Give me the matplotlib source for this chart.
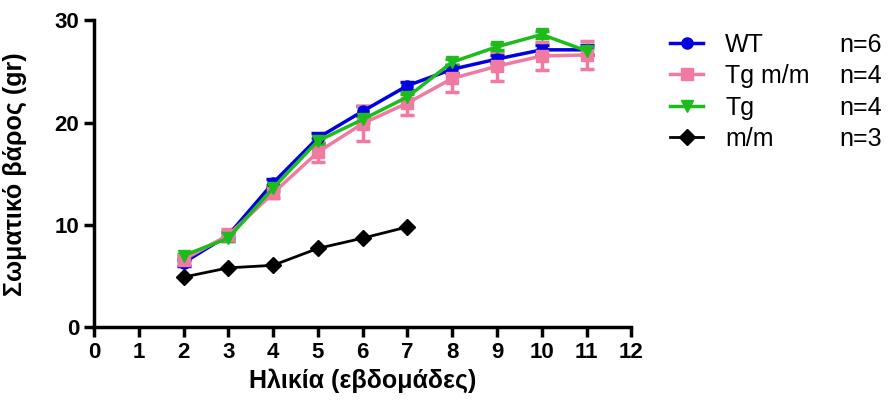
import matplotlib.pyplot as plt
import numpy as np

plt.rcParams['font.family'] = ['Liberation Sans', 'DejaVu Sans']

weeks = [2, 3, 4, 5, 6, 7, 8, 9, 10, 11]
wt = [6.3, 9.0, 14.1, 18.5, 21.1, 23.6, 25.2, 26.2, 27.1, 27.1]
wt_err = [0.3, 0.3, 0.4, 0.5, 0.5, 0.4, 0.4, 0.4, 0.5, 0.5]
tgmm = [6.6, 9.0, 13.1, 17.1, 19.9, 21.9, 24.3, 25.5, 26.5, 26.6]
tgmm_err = [0.4, 0.6, 0.5, 1.0, 1.7, 1.2, 1.3, 1.4, 1.4, 1.4]
tg = [7.0, 8.7, 13.6, 18.2, 20.3, 22.5, 25.9, 27.4, 28.6, 27.0]
tg_err = [0.2, 0.3, 0.3, 0.3, 0.3, 0.3, 0.3, 0.3, 0.3, 0.3]
mm_weeks = [2, 3, 4, 5, 6, 7]
mm = [4.9, 5.8, 6.05, 7.7, 8.7, 9.8]

names = ["WT", "Tg m/m", "Tg", "m/m"]
counts = ["n=6", "n=4", "n=4", "n=3"]

fig = plt.figure(figsize=(8.91, 4.03), dpi=100)
ax = fig.add_axes([0.1055, 0.188, 0.603, 0.762])

e1 = ax.errorbar(weeks, wt, yerr=wt_err, color='#0000e0', marker='o', ms=8, lw=2.5,
                 capsize=5, capthick=2.5, elinewidth=2.5)
e2 = ax.errorbar(weeks, tgmm, yerr=tgmm_err, color='#f07aa0', marker='s', ms=8, lw=2.5,
                 capsize=5, capthick=2.5, elinewidth=2.5)
e3 = ax.errorbar(weeks, tg, yerr=tg_err, color='#1cbc1c', marker='v', ms=9, lw=2.5,
                 capsize=5, capthick=2.5, elinewidth=2.5)
l4, = ax.plot(mm_weeks, mm, color='black', marker='D', ms=8, lw=2)

ax.set_xlim(0, 12)
ax.set_ylim(0, 30)
ax.set_xticks(range(0, 13))
ax.set_yticks([0, 10, 20, 30])
for s in ['top', 'right']:
    ax.spines[s].set_visible(False)
for s in ['left', 'bottom']:
    ax.spines[s].set_linewidth(2.5)
ax.tick_params(width=2.5, length=7, labelsize=16)
for lab in ax.get_xticklabels() + ax.get_yticklabels():
    lab.set_fontweight('bold')
ax.set_xlabel("Ηλικία (εβδομάδες)", fontsize=18, fontweight='bold')
ax.set_ylabel("Σωματικό βάρος (gr)", fontsize=18, fontweight='bold')
ax.yaxis.set_label_coords(-0.125, 0.5)

handles = [e1[0], e2[0], e3[0], l4]
leg = fig.legend(handles, names, loc='upper left', bbox_to_anchor=(0.727, 0.975),
                 frameon=False, fontsize=18, handlelength=1.3, labelspacing=0.3,
                 handletextpad=0.9)
fig.canvas.draw()
for t, n in zip(leg.get_texts(), counts):
    bb = t.get_window_extent()
    yc = (bb.y0 + bb.y1) / 2 / fig.bbox.height
    fig.text(0.99, yc, n, ha='right', va='center', fontsize=18)

fig.savefig('out.png', dpi=100)
